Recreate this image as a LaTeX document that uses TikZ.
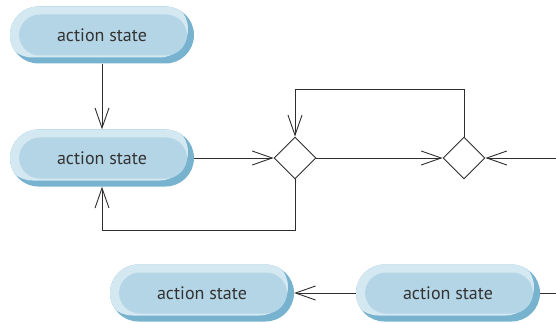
\documentclass[tikz,border=0pt]{standalone}
\usepackage{fontspec}
\setsansfont{PT Sans}
\usetikzlibrary{arrows.meta,shapes.geometric}

\definecolor{actfill}{HTML}{B3D5E6}
\definecolor{actlight}{HTML}{D4E8F2}
\definecolor{actdark}{HTML}{77B2CF}
\definecolor{acttext}{HTML}{333333}
\definecolor{flowc}{HTML}{2E2E2E}

\tikzset{
  actstate/.style={rectangle, rounded corners=28.5pt, minimum width=184pt, minimum height=57pt,
    inner sep=0pt, fill=actdark, text=acttext, font=\sffamily\fontsize{18}{20}\selectfont,
    path picture={
      \fill[actlight, rounded corners=28.5pt] ([xshift=-6pt,yshift=6pt]path picture bounding box.south west)
        rectangle ([xshift=-6pt,yshift=6pt]path picture bounding box.north east);
      \fill[actfill, rounded corners=21pt] ([xshift=9pt,yshift=8pt]path picture bounding box.south west)
        rectangle ([xshift=-7pt,yshift=-8pt]path picture bounding box.north east);
    }},
  branch/.style={diamond, draw=flowc, fill=white, minimum size=42pt, inner sep=0pt, line width=0.9pt},
  flow/.style={draw=flowc, line width=0.9pt},
  flowarrow/.style={flow, -{Straight Barb[length=20pt,width=14pt,line width=0.9pt]}}
}

\begin{document}
\begin{tikzpicture}[x=1pt,y=-1pt]
\useasboundingbox (0,0) rectangle (556,323);
% action states
\node[actstate] (act1) at (102,35) {action state};
\node[actstate] (act2) at (102,158) {action state};
\node[actstate] (act3) at (202,293) {action state};
\node[actstate] (act4) at (448,293) {action state};
% decisions / merges
\node[branch] (dec1) at (295,158) {};
\node[branch] (dec2) at (464,158) {};
\coordinate (inflow1) at (556,158);
\coordinate (inflow2) at (556,293);
% transitions
\draw[flowarrow] (act1) -- (act2);
\draw[flowarrow] (act2) -- (dec1);
\draw[flowarrow] (dec1) -- (dec2);
\draw[flowarrow] (inflow1) -- (dec2);
\draw[flowarrow] (dec2.north) -- ++(0pt,47pt) -| (dec1.north);
\draw[flowarrow] (dec1.south) -- ++(0pt,-51pt) -| (act2.south);
\draw[flowarrow] (act4) -- (act3);
\draw[flow] (inflow2) -- (act4);
\end{tikzpicture}
\end{document}
